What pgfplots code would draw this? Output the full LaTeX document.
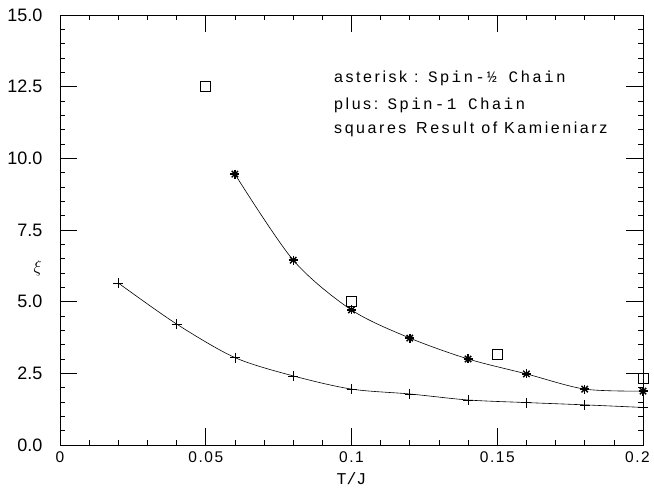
\documentclass[border=0pt]{standalone}
\usepackage{fontspec}
\setmainfont{Liberation Sans}
\newfontfamily\legsans[LetterSpace=16]{Liberation Sans}
\newfontfamily\legmono[LetterSpace=14]{Liberation Mono}
\newfontfamily\xtickfont[LetterSpace=10]{Liberation Sans}
\newfontfamily\plainmono{Liberation Mono}
\usepackage{pgfplots}
\pgfplotsset{compat=1.18}
\begin{document}
\begin{tikzpicture}
\begin{axis}[
  scale only axis, width=583pt, height=430pt,
  xmin=0, xmax=0.2, ymin=0, ymax=15,
  xtick={0,0.05,0.1,0.15,0.2}, xticklabels={0,0.05,0.1,0.15,{\kern-11pt 0.2}},
  ytick={0,2.5,5,7.5,10,12.5,15}, yticklabels={0.0,2.5,5.0,7.5,10.0,12.5,15.0},
  minor x tick num=4, minor y tick num=4,
  tick align=inside, major tick length=17pt, minor tick length=5pt,
  axis line style={line width=0.8pt}, tick style={line width=0.7pt, black},
  yticklabel style={font=\fontsize{18}{20}\selectfont, xshift=-14pt},
  xticklabel style={font=\fontsize{15.5}{17}\selectfont\xtickfont, yshift=-3pt},
  /pgf/number format/assume math mode=true,
  clip=false,
]
\coordinate (ll) at (rel axis cs:0,0);
\coordinate (ur) at (rel axis cs:1,1);
\addplot[smooth, black, line width=0.6pt] coordinates {
(0.06,9.45)(0.08,6.45)(0.10,4.71)(0.12,3.73)(0.14,3.00)(0.16,2.48)(0.18,1.95)(0.20,1.88)};
\addplot[only marks, mark=+, mark size=4.5pt, mark options={line width=1.4pt}] coordinates {
(0.06,9.45)(0.08,6.45)(0.10,4.71)(0.12,3.73)(0.14,3.00)(0.16,2.48)(0.18,1.95)(0.20,1.88)};
\addplot[only marks, mark=x, mark size=4.5pt, mark options={line width=1.4pt}] coordinates {
(0.06,9.45)(0.08,6.45)(0.10,4.71)(0.12,3.73)(0.14,3.00)(0.16,2.48)(0.18,1.95)(0.20,1.88)};
\addplot[smooth, black, line width=0.6pt, mark=+, mark size=5pt, mark options={line width=0.7pt}] coordinates {
(0.02,5.65)(0.04,4.22)(0.06,3.05)(0.08,2.41)(0.10,1.95)(0.12,1.78)(0.14,1.57)(0.16,1.48)(0.18,1.40)(0.20,1.31)};
\addplot[only marks, mark=square, mark size=5pt, mark options={line width=0.7pt}] coordinates {
(0.05,12.5)(0.10,5.02)(0.15,3.15)(0.20,2.33)};
\node[anchor=west, inner sep=0pt] at (axis cs:0.094,12.8) {\fontsize{16}{18}\selectfont\legsans asterisk : \legmono Spin-½ Chain};
\node[anchor=west, inner sep=0pt] at (axis cs:0.094,11.86) {\fontsize{16}{18}\selectfont\legsans plus: \legmono Spin-1 Chain};
\node[anchor=west, inner sep=0pt] at (axis cs:0.094,11.0) {\fontsize{16}{18}\selectfont\legsans squares\, Result of Kamieniarz};
\node at (rel axis cs:-0.038,0.412) {\fontsize{18}{20}\selectfont$\xi$};
\node[inner sep=0pt] at (rel axis cs:0.5,-0.078) {\fontsize{16.5}{17}\selectfont\plainmono T/J};
\end{axis}
\pgfresetboundingbox
\path ([shift={(-60pt,-44pt)}]ll) rectangle ([shift={(11pt,15pt)}]ur);
\end{tikzpicture}
\end{document}
